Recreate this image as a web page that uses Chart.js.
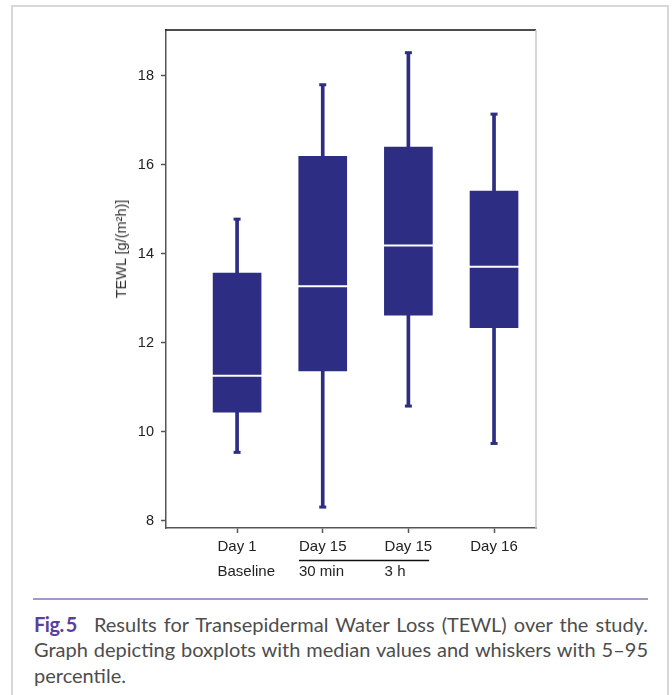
<!DOCTYPE html>
<html><head><meta charset="utf-8">
<script src="https://cdn.jsdelivr.net/npm/chart.js@4"></script>
<style>
html,body{margin:0;padding:0;background:#fff;width:672px;height:695px;overflow:hidden;}
#frame{position:absolute;left:11px;top:5px;width:658px;height:720px;box-sizing:border-box;border:2px solid #d8d8d8;border-bottom:none;}
#c{position:absolute;left:0;top:0;}
#ytitle{position:absolute;left:121px;top:249px;transform:translate(-50%,-50%) rotate(-90deg);font:14.5px "Liberation Sans",Arial,sans-serif;color:#333;white-space:nowrap;}
#rule{position:absolute;left:33px;top:598px;width:615px;height:2px;background:#a596cc;}
#caption{position:absolute;left:34px;top:611.5px;width:614px;font:20px Lato,sans-serif;line-height:25.5px;color:#4d4d4d;}
.j{text-align:justify;text-align-last:justify;}
.fig{color:#5b3f9c;font-weight:bold;letter-spacing:-0.5px;margin-right:10px;}
</style></head><body>
<div id="frame"></div>
<canvas id="c" width="672" height="590"></canvas>
<div id="ytitle">TEWL [g/(m²h)]</div>
<div id="rule"></div>
<div id="caption">
<div class="j"><span class="fig">Fig.&#8201;5</span> Results for Transepidermal Water Loss (TEWL) over the study.</div>
<div class="j">Graph depicting boxplots with median values and whiskers with 5–95</div>
<div>percentile.</div>
</div>
<script>
const categories = ['Day 1', 'Day 15', 'Day 15', 'Day 16'];
const subLabels = ['Baseline', '30 min', '3 h', ''];
const positions = [1, 2, 3, 4];
const whiskerLow = [9.54, 8.31, 10.58, 9.74];
const q1 = [10.44, 11.37, 12.62, 12.34];
const median = [11.26, 13.27, 14.19, 13.71];
const q3 = [13.57, 16.19, 16.40, 15.41];
const whiskerHigh = [14.78, 17.80, 18.52, 17.14];
const yTicks = [8, 10, 12, 14, 16, 18];

const NAVY = '#2d2d84';
const LABEL_FONT = '15px "Liberation Sans", Arial, sans-serif';

const decor = {
  id: 'decor',
  afterDraw(chart) {
    const ctx = chart.ctx, a = chart.chartArea, xs = chart.scales.x;
    ctx.save();
    ctx.lineWidth = 1.5;
    ctx.strokeStyle = '#111';
    ctx.beginPath(); ctx.moveTo(a.left - 0.75, a.top); ctx.lineTo(a.right, a.top); ctx.stroke();
    ctx.strokeStyle = '#c8c8c8';
    ctx.beginPath(); ctx.moveTo(a.right, a.top); ctx.lineTo(a.right, a.bottom); ctx.stroke();
    ctx.font = LABEL_FONT;
    ctx.fillStyle = '#222';
    ctx.textBaseline = 'middle';
    ctx.textAlign = 'left';
    const lefts = [], widths = [];
    categories.forEach((c, i) => {
      const w = ctx.measureText(c).width;
      const l = xs.getPixelForValue(positions[i]) - w / 2;
      lefts.push(l); widths.push(w);
      if (subLabels[i]) ctx.fillText(subLabels[i], l, 572);
    });
    ctx.strokeStyle = '#111';
    ctx.lineWidth = 1.4;
    ctx.beginPath();
    ctx.moveTo(lefts[1], 560.5);
    ctx.lineTo(lefts[2] + widths[2] - 3, 560.5);
    ctx.stroke();
    ctx.restore();
  }
};

new Chart(document.getElementById('c'), {
  type: 'bar',
  data: {
    datasets: [
      {
        type: 'bar', label: 'whiskers', order: 4, grouped: false,
        data: positions.map((x, i) => ({ x, y: [whiskerLow[i], whiskerHigh[i]] })),
        backgroundColor: NAVY, barThickness: 3
      },
      {
        type: 'bar', label: 'boxes', order: 3, grouped: false,
        data: positions.map((x, i) => ({ x, y: [q1[i], q3[i]] })),
        backgroundColor: NAVY, barThickness: 48
      },
      {
        type: 'line', label: 'caps', order: 2, showLine: false,
        data: positions.flatMap((x, i) => [{ x, y: whiskerLow[i] }, { x, y: whiskerHigh[i] }]),
        pointStyle: 'line', pointRadius: 3.5, pointBorderWidth: 3,
        pointBorderColor: NAVY, pointBackgroundColor: NAVY, borderColor: NAVY
      },
      {
        type: 'line', label: 'median', order: 1, showLine: false,
        data: positions.map((x, i) => ({ x, y: median[i] })),
        pointStyle: 'line', pointRadius: 25, pointBorderWidth: 2,
        pointBorderColor: '#ffffff', borderColor: '#ffffff'
      }
    ]
  },
  options: {
    responsive: false,
    animation: false,
    devicePixelRatio: 1,
    layout: { padding: { top: 30, right: 136, left: 0, bottom: 0 } },
    plugins: { legend: { display: false }, tooltip: { enabled: false } },
    scales: {
      x: {
        type: 'linear', min: 0.17, max: 4.49, offset: false,
        afterBuildTicks: s => { s.ticks = positions.map(v => ({ value: v })); },
        afterFit: s => { s.height = 62; },
        ticks: {
          autoSkip: false, maxRotation: 0, padding: 5,
          font: { family: '"Liberation Sans", Arial, sans-serif', size: 15 },
          color: '#222',
          callback: (v, i) => categories[i]
        },
        grid: { offset: false, drawOnChartArea: false, drawTicks: true, tickLength: 5, tickColor: '#555', tickWidth: 1.5 },
        border: { color: '#555', width: 1.5 }
      },
      y: {
        type: 'linear', min: 7.84, max: 19.03,
        afterBuildTicks: s => { s.ticks = yTicks.map(v => ({ value: v })); },
        afterFit: s => { s.width = 166; },
        ticks: {
          padding: 7,
          font: { family: '"Liberation Sans", Arial, sans-serif', size: 14.5 },
          color: '#222'
        },
        grid: { drawOnChartArea: false, drawTicks: true, tickLength: 5, tickColor: '#555', tickWidth: 1.5 },
        border: { color: '#555', width: 1.5 }
      }
    }
  },
  plugins: [decor]
});
</script>
</body></html>
